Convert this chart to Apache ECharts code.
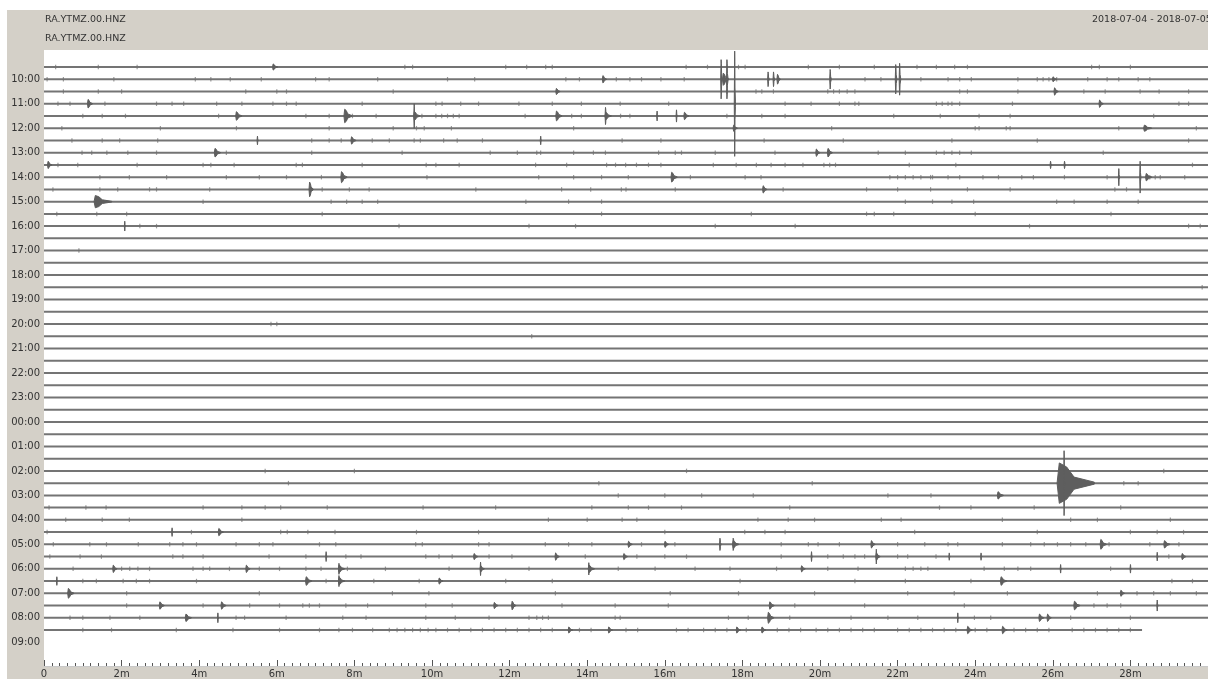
<!DOCTYPE html>
<html>
<head>
<meta charset="utf-8">
<script src="https://cdn.jsdelivr.net/npm/echarts@6/dist/echarts.min.js"></script>
<style>html,body{margin:0;padding:0;background:#fff}#c{width:1208px;height:679px}</style>
</head>
<body>
<div id="c"></div>
<script>
// ---- DATA ----
const stationLabel = 'RA.YTMZ.00.HNZ';
const dateRange = '2018-07-04 - 2018-07-05';
const hourLabels = ['10:00','11:00','12:00','13:00','14:00','15:00','16:00','17:00','18:00','19:00','20:00','21:00','22:00','23:00','00:00','01:00','02:00','03:00','04:00','05:00','06:00','07:00','08:00','09:00'];
const hourLabelRows = [1,3,5,7,9,11,13,15,17,19,21,23,25,27,29,31,33,35,37,39,41,43,45,47];
const xTickMinutes = [0,2,4,6,8,10,12,14,16,18,20,22,24,26,28];
// end minute of each 30-min trace row (row 0 = 09:30 ... row 46 = 08:30)
const traceEnd = [30,30,30,30,30,30,30,30,30,30,30,30,30,30,30,30,30,30,30,30,30,30,30,30,30,30,30,30,30,30,30,30,30,30,30,30,30,30,30,30,30,30,30,30,30,30,28.3];
// small noise ticks: [row, [minutes...]]
const smallTicks = [
 [0,[0.3,1.4,2.4,9.3,9.5,11.9,12.44,12.93,13.1,16.55,17.1,17.9,18.07,19.7,20.5,21.4,22.5,23.0,23.47,23.8,27.0,27.2,28.0]],
 [1,[0.08,0.5,1.8,3.9,4.3,4.8,5.6,7.0,7.35,8.6,10.4,11.1,13.45,13.8,14.75,15.1,15.4,15.9,16.5,21.16,21.57,22.6,23.3,23.6,23.9,25.1,25.6,25.75,25.9,26.1,26.9,27.4,27.7,28.2,28.5]],
 [2,[0.5,1.4,2.0,5.2,6.0,6.25,9.0,17.6,18.35,18.5,18.8,20.2,20.35,20.5,20.7,20.9,23.6,23.8,25.1,26.8,27.35,28.25,28.74,29.5]],
 [3,[0.36,0.67,1.57,2.9,3.3,3.6,4.45,5.1,5.9,6.25,6.5,8.2,10.1,10.26,10.74,11.2,12.24,13.1,13.85,14.85,16.1,19.1,19.77,20.5,20.9,21.0,23.0,23.15,23.3,23.4,23.6,24.96,29.25,29.5]],
 [4,[1.0,1.5,2.1,4.5,6.75,7.35,7.95,8.56,9.74,10.1,10.25,10.4,10.55,10.7,12.4,13.6,13.85,14.86,15.1,17.6,18.5,19.1,21.9,23.1,24.1,24.9,28.6]],
 [5,[0.46,3.0,4.96,7.35,9.0,9.6,9.8,10.5,13.65,20.3,24.0,24.1,24.8,24.9,27.7,29.7]],
 [6,[0.72,1.5,1.95,2.93,6.9,7.35,7.66,8.46,8.9,9.54,9.7,10.3,10.65,11.3,14.9,15.9,18.56,20.6,23.4,25.6,29.5]],
 [7,[0.98,1.23,1.62,2.16,2.9,4.7,6.9,9.23,11.5,12.2,12.7,12.8,13.65,14.16,14.47,15.84,16.27,16.43,17.3,18.84,21.5,22.2,23.0,23.2,23.4,23.6,23.9,27.3]],
 [8,[0.36,0.87,2.4,4.1,4.3,4.9,6.5,6.66,8.2,9.85,10.1,10.7,12.67,13.47,14.5,14.73,14.99,15.27,15.58,15.9,17.25,17.84,18.36,18.74,19.1,19.56,20.1,20.25,20.4,22.3,23.5,29.6]],
 [9,[1.44,2.2,3.16,4.7,5.55,6.25,7.15,9.87,12.75,13.65,14.37,15.06,16.66,18.07,18.48,21.8,22.0,22.2,22.4,22.6,22.85,22.9,23.3,23.6,24.2,24.6,25.2,25.5,26.3,27.4,28.5,28.64,28.77,29.4]],
 [10,[0.23,1.44,1.9,2.72,2.9,4.27,7.17,7.87,8.38,11.13,13.34,14.09,14.88,15.0,16.27,19.05,21.2,22.0,22.85,23.8,24.9,27.6,27.9]],
 [11,[4.1,7.4,7.8,8.2,8.6,12.42,13.52,14.37,22.2,22.9,23.4,23.96,26.1,26.55,27.4,28.2]],
 [12,[0.33,1.36,2.13,7.17,14.37,18.23,21.2,21.4,21.9,24.0,27.5]],
 [13,[2.47,2.9,9.15,12.5,13.7,17.3,19.36,25.4,29.5,29.8]],
 [15,[0.9]],
 [18,[29.85]],
 [21,[5.85,6.0]],
 [22,[12.57]],
 [33,[5.7,8.0,16.56,28.86]],
 [34,[6.3,14.3,19.8,27.83,28.2]],
 [35,[14.8,16.0,16.95,18.28,21.75,22.86]],
 [36,[0.13,1.08,1.6,4.1,5.1,5.7,6.1,7.3,9.77,11.64,14.12,15.06,15.58,16.43,19.22,23.08,23.89,25.52,27.75]],
 [37,[0.56,1.5,2.2,5.1,13.0,14.0,14.9,15.28,18.4,19.18,19.86,21.58,22.09,24.7,26.46,27.15,29.03]],
 [38,[0.08,3.8,6.1,6.27,6.8,7.5,9.6,11.2,16.0,18.06,18.58,19.1,22.44,25.6,28.0,28.69,29.37]],
 [39,[0.24,1.18,1.61,2.43,3.24,3.58,3.93,4.95,5.55,5.9,7.1,7.52,9.58,9.75,11.2,11.47,12.92,13.52,14.12,15.4,16.26,19.0,19.7,19.95,20.5,22.0,22.7,23.3,23.55,24.7,25.43,25.78,26.12,26.46,26.85,27.45,28.5,29.25]],
 [40,[0.15,0.93,1.48,3.32,3.58,4.1,5.8,6.75,7.78,8.17,9.84,10.18,10.52,11.47,12.06,13.95,15.28,16.0,16.56,19.0,20.2,20.6,20.9,21.15,22.0,22.26,22.99,28.99]],
 [41,[0.75,2.0,2.21,2.42,2.72,3.84,4.1,4.27,4.78,5.55,6.07,6.75,7.14,7.82,8.8,10.44,12.5,14.8,15.75,16.78,17.68,18.88,20.2,20.98,22.2,22.4,22.6,22.78,24.23,24.75,25.1,25.43,27.49]],
 [42,[1.0,1.35,2.04,2.38,2.72,3.93,7.27,8.5,9.67,11.9,13.1,17.94,20.9,22.2,23.89,29.07,29.6]],
 [43,[2.13,5.55,8.98,9.92,13.18,16.14,17.9,19.86,22.26,23.46,24.83,27.15,28.17,28.6,29.03,29.7]],
 [44,[2.13,4.1,5.3,6.07,6.67,6.84,7.1,7.78,8.34,9.84,10.52,13.35,14.72,16.09,19.35,21.15,23.72,27.06,27.4,27.75]],
 [45,[0.67,1.0,1.7,2.47,4.95,5.17,6.24,7.7,8.3,9.84,10.6,11.47,12.5,12.7,12.85,13.0,14.72,14.85,17.64,18.15,19.22,20.8,21.75,22.52,23.98,24.4,26.46,28.0]],
 [46,[1.0,1.74,3.41,4.87,6.07,7.1,7.6,7.95,8.47,8.9,9.1,9.3,9.5,9.7,9.9,10.1,10.4,10.7,11.0,11.3,11.6,11.9,12.2,12.5,12.8,13.1,13.8,14.1,15.0,15.3,16.3,16.6,17.0,17.3,17.6,18.1,18.9,19.2,19.5,19.9,20.2,20.5,20.8,21.1,21.4,22.0,22.3,22.6,22.9,23.2,23.5,24.0,24.3,25.0,25.3,25.6,25.9,26.5,26.8,27.1,27.4,27.7,28.0]]
];
// larger events: [row, onset minute, half-amplitude (rows), duration (minutes)]
const events = [
 [0,5.9,0.25,0.12],
 [1,17.45,1.6,0.03],[1,17.6,1.6,0.03],[3,17.8,4.3,0.02],
 [1,14.4,0.3,0.1],[1,17.5,0.5,0.15],[1,18.66,0.6,0.03],[1,18.8,0.6,0.03],[1,18.9,0.4,0.08],
 [1,20.26,0.8,0.03],[1,21.95,1.2,0.03],[1,22.05,1.3,0.03],[1,26.0,0.2,0.1],
 [2,13.2,0.25,0.1],[2,26.04,0.3,0.1],
 [3,1.13,0.35,0.12],[3,27.2,0.3,0.1],
 [4,4.95,0.35,0.15],[4,7.74,0.55,0.2],[4,9.54,1.0,0.02],[4,9.54,0.35,0.15],[4,13.2,0.4,0.15],
 [4,14.47,0.7,0.03],[4,14.47,0.3,0.15],[4,15.8,0.4,0.02],[4,16.3,0.5,0.02],[4,16.5,0.3,0.12],
 [5,17.77,0.25,0.1],[5,28.35,0.25,0.2],
 [6,5.5,0.35,0.02],[6,7.92,0.3,0.12],[6,12.8,0.35,0.02],
 [7,4.4,0.35,0.15],[7,19.9,0.3,0.1],[7,20.2,0.35,0.12],
 [8,0.1,0.3,0.1],[8,25.94,0.3,0.03],[8,26.3,0.3,0.03],
 [9,7.66,0.45,0.15],[9,16.17,0.4,0.15],[9,27.7,0.7,0.02],[9,28.25,1.3,0.02],[9,28.4,0.3,0.15],
 [10,6.84,0.6,0.1],[10,18.53,0.3,0.1],
 [11,1.3,0.5,0.45],
 [13,2.08,0.4,0.02],
 [34,26.12,1.65,0.95],[34,26.29,2.65,0.02],
 [35,24.58,0.3,0.15],
 [38,3.3,0.35,0.02],[38,4.5,0.3,0.12],
 [39,15.06,0.25,0.1],[39,16.0,0.25,0.1],[39,17.42,0.5,0.03],[39,17.76,0.5,0.05],[39,17.76,0.3,0.15],
 [39,21.32,0.3,0.1],[39,27.23,0.4,0.15],[39,28.87,0.3,0.15],
 [40,7.27,0.4,0.02],[40,11.08,0.25,0.1],[40,13.18,0.3,0.1],[40,14.94,0.25,0.1],[40,19.78,0.4,0.02],
 [40,21.45,0.6,0.02],[40,21.45,0.3,0.1],[40,23.33,0.3,0.02],[40,24.15,0.3,0.02],[40,28.69,0.35,0.02],[40,29.33,0.25,0.1],
 [41,1.78,0.3,0.1],[41,5.21,0.3,0.1],[41,7.6,0.45,0.03],[41,7.6,0.3,0.15],[41,11.25,0.55,0.02],[41,11.25,0.25,0.1],
 [41,14.04,0.5,0.02],[41,14.04,0.3,0.15],[41,19.52,0.25,0.1],[41,26.2,0.35,0.02],[41,28.0,0.35,0.02],
 [42,0.33,0.35,0.02],[42,6.75,0.35,0.15],[42,7.6,0.45,0.03],[42,7.6,0.3,0.15],[42,10.18,0.25,0.1],[42,24.66,0.35,0.15],
 [43,0.62,0.4,0.15],[43,27.75,0.25,0.1],
 [44,2.98,0.3,0.12],[44,4.57,0.3,0.12],[44,11.6,0.25,0.1],[44,12.06,0.35,0.1],[44,18.7,0.3,0.12],[44,26.55,0.35,0.15],[44,28.69,0.45,0.02],
 [45,3.65,0.3,0.15],[45,4.48,0.4,0.02],[45,18.66,0.45,0.15],[45,23.55,0.4,0.02],[45,25.65,0.3,0.12],[45,25.86,0.3,0.1],
 [46,13.52,0.25,0.1],[46,14.55,0.25,0.1],[46,17.85,0.25,0.1],[46,18.5,0.25,0.1],[46,23.8,0.3,0.12],[46,24.7,0.3,0.12]
];

// ---- BUILD ----
const traceData = traceEnd.map((e, i) => [i, e]);
const tickData = [];
smallTicks.forEach(([row, mins]) => mins.forEach(m => tickData.push([m, row])));

// envelope shape of a burst: [fraction of duration, fraction of amplitude]
const envelope = [[0.05, 1], [0.25, 0.8], [0.45, 0.3], [1, 0.05]];

const FONT = 'DejaVu Sans';
const chart = echarts.init(document.getElementById('c'), null, {renderer: 'canvas'});
chart.setOption({
  animation: false,
  backgroundColor: '#ffffff',
  textStyle: {fontFamily: FONT},
  graphic: [
    {type: 'rect', z: -10, shape: {x: 7, y: 10, width: 1210, height: 680}, style: {fill: '#d4d0c8'}},
    {type: 'text', z: 10, x: 45, y: 20, style: {text: stationLabel, font: '9.5px "DejaVu Sans"', fill: '#333', verticalAlign: 'middle'}},
    {type: 'text', z: 10, x: 45, y: 39, style: {text: stationLabel, font: '9.5px "DejaVu Sans"', fill: '#333', verticalAlign: 'middle'}},
    {type: 'text', z: 10, x: 1092, y: 20, style: {text: dateRange, font: '9.5px "DejaVu Sans"', fill: '#333', verticalAlign: 'middle'}}
  ],
  grid: {left: 44, top: 50, right: -3, bottom: 12, show: true, backgroundColor: '#ffffff', borderWidth: 0, containLabel: false},
  xAxis: {
    type: 'value', min: 0, max: 30, interval: 2, position: 'bottom',
    axisLine: {show: true, onZero: false, lineStyle: {color: '#c8c8c8', width: 1}},
    axisTick: {show: true, inside: true, length: 6, lineStyle: {color: '#555'},
      customValues: xTickMinutes},
    minorTick: {show: true, splitNumber: 10, length: 3, lineStyle: {color: '#555'}},
    splitLine: {show: false},
    axisLabel: {show: true, margin: 3, color: '#333', fontSize: 10, fontFamily: FONT,
      customValues: xTickMinutes,
      formatter: v => (v === 0 ? '0' : v + 'm')}
  },
  yAxis: {
    type: 'value', inverse: true, min: -1.39, max: 48.94,
    axisLine: {show: false, onZero: false}, axisTick: {show: false}, splitLine: {show: false},
    axisLabel: {show: true, margin: 4, color: '#333', fontSize: 10, fontFamily: FONT,
      customValues: hourLabelRows,
      formatter: v => hourLabels[Math.round((v - 1) / 2)] || ''}
  },
  series: [
    {
      type: 'custom', name: 'traces', data: traceData, clip: true, z: 2,
      encode: {x: 1, y: 0},
      renderItem: (params, api) => {
        const row = api.value(0), end = api.value(1);
        const p0 = api.coord([0, row]), p1 = api.coord([end, row]);
        return {type: 'line', shape: {x1: p0[0], y1: p0[1], x2: p1[0], y2: p1[1]},
          style: {stroke: '#747474', lineWidth: 2}};
      }
    },
    {
      type: 'scatter', name: 'ticks', data: tickData, z: 3,
      symbol: 'rect', symbolSize: [1.2, 4.5],
      itemStyle: {color: '#707070', opacity: 0.7}
    },
    {
      type: 'custom', name: 'events', data: events, clip: true, z: 4,
      encode: {x: 1, y: 0},
      renderItem: (params, api) => {
        const row = api.value(0), t = api.value(1), a = api.value(2), d = api.value(3);
        const top = [api.coord([t - 0.01, row])];
        const bottom = [];
        envelope.forEach(([fx, fa]) => {
          top.push(api.coord([t + fx * d, row - fa * a]));
          bottom.unshift(api.coord([t + fx * d, row + fa * a]));
        });
        return {type: 'polygon', shape: {points: top.concat(bottom)},
          style: {fill: '#5e5e5e', stroke: '#5e5e5e', lineWidth: 1}};
      }
    }
  ]
});
</script>
</body>
</html>
